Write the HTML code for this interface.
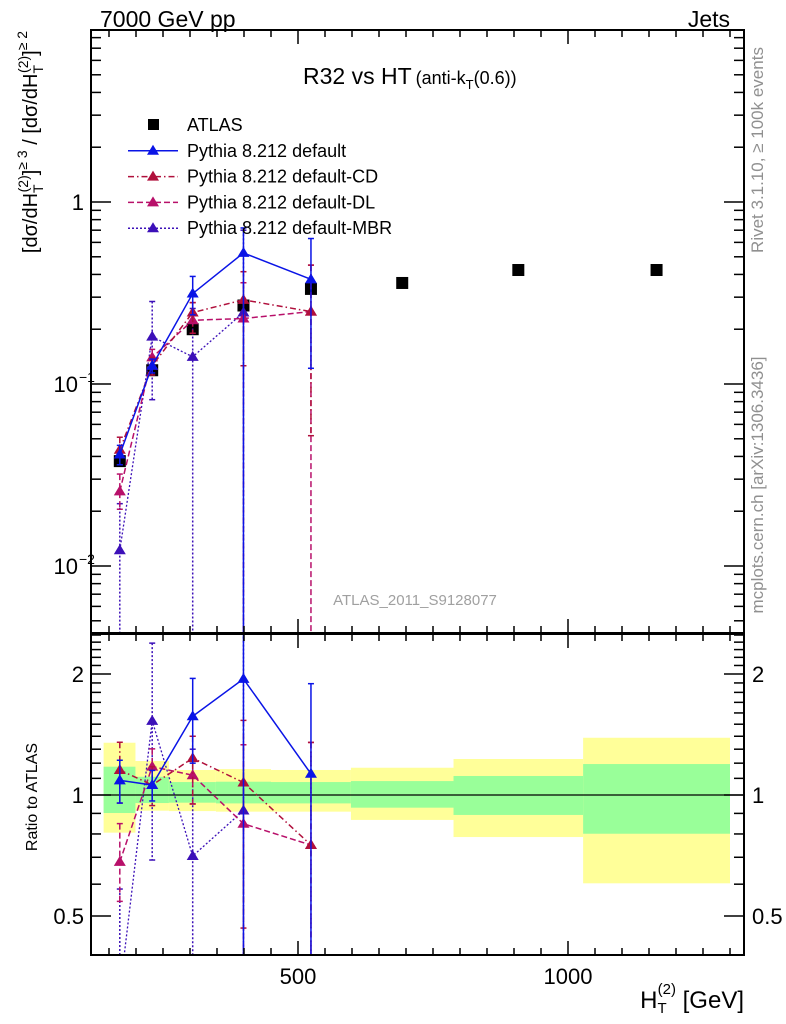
<!DOCTYPE html>
<html><head><meta charset="utf-8"><style>
body{margin:0;background:#fff;overflow:hidden}
svg{display:block;font-family:"Liberation Sans",sans-serif}
</style></head><body>
<svg id="chart" width="786" height="1024" viewBox="0 0 786 1024" xmlns="http://www.w3.org/2000/svg">
<rect x="0" y="0" width="786" height="1024" fill="#fff"/>
<g id="bands"></g>
<g id="marks"></g>
<g id="axes"></g>
<text x="100" y="27" font-size="23">7000 GeV pp</text>
<text x="730" y="27" font-size="23" text-anchor="end">Jets</text>
<text x="303" y="84" font-size="23">R32 vs HT<tspan font-size="18" dx="4">(anti-k</tspan><tspan font-size="13" dy="5">T</tspan><tspan font-size="18" dy="-5">(0.6))</tspan></text>
<text x="415" y="605" font-size="15" fill="#a0a0a0" text-anchor="middle">ATLAS_2011_S9128077</text>
<text transform="translate(763,150) rotate(-90)" font-size="17" fill="#909090" text-anchor="middle">Rivet 3.1.10, ≥ 100k events</text>
<text transform="translate(763,485) rotate(-90)" font-size="17" fill="#909090" text-anchor="middle">mcplots.cern.ch [arXiv:1306.3436]</text>
<text transform="translate(37,142) rotate(-90)" font-size="20" text-anchor="middle">[dσ/dH<tspan font-size="14" dy="6">T</tspan><tspan font-size="14" dx="-8" dy="-15">(2)</tspan><tspan dy="9">]</tspan><tspan font-size="14" dy="-10">≥ 3</tspan><tspan dy="10"> / [dσ/dH</tspan><tspan font-size="14" dy="6">T</tspan><tspan font-size="14" dx="-8" dy="-15">(2)</tspan><tspan dy="9">]</tspan><tspan font-size="14" dy="-10">≥ 2</tspan></text>
<text transform="translate(37,797) rotate(-90)" font-size="16" text-anchor="middle">Ratio to ATLAS</text>
<text x="744" y="1008" font-size="24" text-anchor="end">H<tspan font-size="15" dy="5">T</tspan><tspan font-size="15" dx="-9" dy="-19">(2)</tspan><tspan dy="14"> [GeV]</tspan></text>
<g id="legend"></g>
</svg>
<script>
const binEdges=[140,199,261,348,450,598,788,1028,1300];
const atlasX=[170,230,305,399,524,693,908,1164];
const atlasY=[0.0377,0.119,0.2,0.27,0.333,0.359,0.423,0.423];
const yellowUp=[1.349,1.215,1.154,1.160,1.154,1.169,1.229,1.388];
const yellowLo=[0.806,0.914,0.912,0.909,0.909,0.867,0.786,0.603];
const greenUp=[1.176,1.110,1.077,1.079,1.077,1.083,1.115,1.194];
const greenLo=[0.902,0.955,0.957,0.953,0.953,0.930,0.892,0.801];
const mcX=[170,230,305,399,524];
const defY=[0.041,0.126,0.314,0.525,0.376];
const defUp=[0.046,0.137,0.39,0.72,0.63];
const defLo=[0.036,0.115,0.24,0.0001,0.122];
const cdY=[0.0435,0.126,0.247,0.29,0.25];
const cdUp=[0.051,0.14,0.28,0.414,0.45];
const cdLo=[0.036,0.112,0.19,0.126,0.052];
const dlY=[0.0257,0.14,0.224,0.229,0.25];
const dlUp=[0.032,0.155,0.28,0.36,0.45];
const dlLo=[0.0205,0.125,0.19,0.0001,0.0001];
const mbrX=[170,230,305,399];
const mbrY=[0.0122,0.182,0.141,0.247];
const mbrUp=[0.022,0.284,0.26,0.7];
const mbrLo=[0.0001,0.082,0.0001,0.0001];

const L=91,R=744,T=30,MB=633,RT=634,RB=955;
const NS="http://www.w3.org/2000/svg";
function X(v){return 298+(v-500)*0.54;}
function Y(v){return 202-182*Math.log10(v);}
function RY(v){return 795-402*Math.log10(v);}
function mk(tag,attrs,parent){const e=document.createElementNS(NS,tag);for(const k in attrs)e.setAttribute(k,attrs[k]);parent.appendChild(e);return e;}
const bands=document.getElementById('bands'),marks=document.getElementById('marks'),axes=document.getElementById('axes'),legend=document.getElementById('legend');

const defs=mk('defs',{},document.getElementById('chart'));
const c1=mk('clipPath',{id:'cm'},defs);mk('rect',{x:L,y:T,width:R-L,height:MB-T},c1);
const c2=mk('clipPath',{id:'cr'},defs);mk('rect',{x:L,y:RT,width:R-L,height:RB-RT},c2);
const gm=mk('g',{'clip-path':'url(#cm)'},marks);
const gr=mk('g',{'clip-path':'url(#cr)'},marks);
const gb=mk('g',{'clip-path':'url(#cr)'},bands);

for(let i=0;i<atlasX.length;i++){
  const x0=X(binEdges[i]),x1=X(binEdges[i+1]);
  const y=mk('rect',{x:x0,y:RY(yellowUp[i]),width:x1-x0,height:RY(yellowLo[i])-RY(yellowUp[i]),fill:'#ffff99'},gb);
  
  
  const g=mk('rect',{x:x0,y:RY(greenUp[i]),width:x1-x0,height:RY(greenLo[i])-RY(greenUp[i]),fill:'#99ff99'},gb);
  
  
}
const one=mk('line',{x1:L,x2:R,y1:RY(1),y2:RY(1),stroke:'#000','stroke-width':1.2},gb);



function tri(g,x,y,col){return mk('path',{d:`M${x} ${y-6}L${x+6} ${y+4}L${x-6} ${y+4}Z`,fill:col},g);}
function series(name,xs,ys,up,lo,col,dash,width){
  const pts=xs.map((x,i)=>X(x)+','+Y(ys[i])).join(' ');
  const atl=xs.map(x=>atlasY[atlasX.indexOf(x)]);
  const rpts=xs.map((x,i)=>X(x)+','+RY(ys[i]/atl[i])).join(' ');
  const l=mk('polyline',{points:pts,fill:'none',stroke:col,'stroke-width':width,'stroke-dasharray':dash},gm);
  
  
  const lr=mk('polyline',{points:rpts,fill:'none',stroke:col,'stroke-width':width,'stroke-dasharray':dash},gr);
  
  
  xs.forEach((x,i)=>{
    const px=X(x);
    const e=mk('line',{x1:px,x2:px,y1:Y(up[i]),y2:Y(lo[i]),stroke:col,'stroke-width':1.5,'stroke-dasharray':dash},gm);
    
    
    mk('line',{x1:px-3,x2:px+3,y1:Y(up[i]),y2:Y(up[i]),stroke:col,'stroke-width':1.5},gm);
    mk('line',{x1:px-3,x2:px+3,y1:Y(lo[i]),y2:Y(lo[i]),stroke:col,'stroke-width':1.5},gm);
    const er=mk('line',{x1:px,x2:px,y1:RY(up[i]/atl[i]),y2:RY(lo[i]/atl[i]),stroke:col,'stroke-width':1.5,'stroke-dasharray':dash},gr);
    
    
    mk('line',{x1:px-3,x2:px+3,y1:RY(up[i]/atl[i]),y2:RY(up[i]/atl[i]),stroke:col,'stroke-width':1.5},gr);
    mk('line',{x1:px-3,x2:px+3,y1:RY(lo[i]/atl[i]),y2:RY(lo[i]/atl[i]),stroke:col,'stroke-width':1.5},gr);
    const t=tri(gm,px,Y(ys[i]),col);
    
    
    const tr=tri(gr,px,RY(ys[i]/atl[i]),col);
    
    
  });
}
atlasX.forEach((x,i)=>{
  const s=mk('rect',{x:X(x)-6,y:Y(atlasY[i])-6,width:12,height:12,fill:'#000'},gm);
  
  
});
series('mbr',mbrX,mbrY,mbrUp,mbrLo,'#3c10b8','2,2',1.3);
series('dl',mcX,dlY,dlUp,dlLo,'#b8106a','6,3',1.5);
series('cd',mcX,cdY,cdUp,cdLo,'#b0103c','6,3,1.5,3',1.5);
series('default',mcX,defY,defUp,defLo,'#0a14e6','',1.5);

[[T,MB],[RT,RB]].forEach(([a,b])=>{const f=mk('rect',{x:L,y:a,width:R-L,height:b-a,fill:'none',stroke:'#000','stroke-width':2},axes);
 
 });
for(let v=150;v<=1300;v+=50){
  const px=X(v);if(px<L||px>R)continue;const big=(v%500===0);const len=big?14:7;
  [[T,1],[MB,-1],[RT,1],[RB,-1]].forEach(([y,d])=>{mk('line',{x1:px,x2:px,y1:y,y2:y+d*len,stroke:'#000','stroke-width':1.5},axes);});
}
const xticks=['500','1000'];const xtickV=[500,1000];
xtickV.forEach((v,i)=>{const t=mk('text',{x:X(v),y:984,'font-size':22,'text-anchor':'middle'},axes);t.textContent=xticks[i];
 
 });
for(let d=-3;d<=0;d++){for(let m=1;m<10;m++){const v=m*Math.pow(10,d);const py=Y(v);if(py<T||py>MB)continue;const len=m===1?20:10;
  mk('line',{x1:L,x2:L+len,y1:py,y2:py,stroke:'#000','stroke-width':1.5},axes);
  mk('line',{x1:R,x2:R-len,y1:py,y2:py,stroke:'#000','stroke-width':1.5},axes);}}
const ylab=[[1,'1',''],[0.1,'10','−1'],[0.01,'10','−2']];
ylab.forEach(([v,b,e])=>{const t=mk('text',{x:e?78:84,y:Y(v)+8,'font-size':22,'text-anchor':'end'},axes);t.textContent=b;
 
 
 if(e){const s=mk('text',{x:79,y:Y(v)-2,'font-size':14},axes);s.textContent=e;}});
const rt=[0.4,0.5,0.6,0.7,0.8,0.9,1,1.1,1.2,1.3,1.4,1.5,1.6,1.7,1.8,1.9,2,2.1,2.2,2.3,2.4,2.5];
rt.forEach(v=>{const py=RY(v);if(py<RT||py>RB)return;const big=(v===0.5||v===1||v===2);const len=big?20:10;
  mk('line',{x1:L,x2:L+len,y1:py,y2:py,stroke:'#000','stroke-width':1.5},axes);
  mk('line',{x1:R,x2:R-len,y1:py,y2:py,stroke:'#000','stroke-width':1.5},axes);});
const rlab=[[2,'2'],[1,'1'],[0.5,'0.5']];
rlab.forEach(([v,s])=>{const t=mk('text',{x:84,y:RY(v)+8,'font-size':22,'text-anchor':'end'},axes);t.textContent=s;
 
 
 const t2=mk('text',{x:752,y:RY(v)+8,'font-size':22},axes);t2.textContent=s;
 
 });
const legNames=['ATLAS','Pythia 8.212 default','Pythia 8.212 default-CD','Pythia 8.212 default-DL','Pythia 8.212 default-MBR'];
const legCols=['#000','#0a14e6','#b0103c','#b8106a','#3c10b8'];
const legDash=['','','6,3,1.5,3','6,3','2,2'];
legNames.forEach((n,i)=>{const y=124+i*25.8;
  const g=mk('g',{},legend);
  
  
  if(i===0){mk('rect',{x:148,y:y-5,width:11,height:11,fill:'#000'},g);}
  else{mk('line',{x1:128,x2:178,y1:y+1,y2:y+1,stroke:legCols[i],'stroke-width':1.5,'stroke-dasharray':legDash[i]},g);tri(g,153,y+1,legCols[i]);}
  const t=mk('text',{x:187,y:y+7,'font-size':18},g);t.textContent=n;});
</script>
</body></html>
